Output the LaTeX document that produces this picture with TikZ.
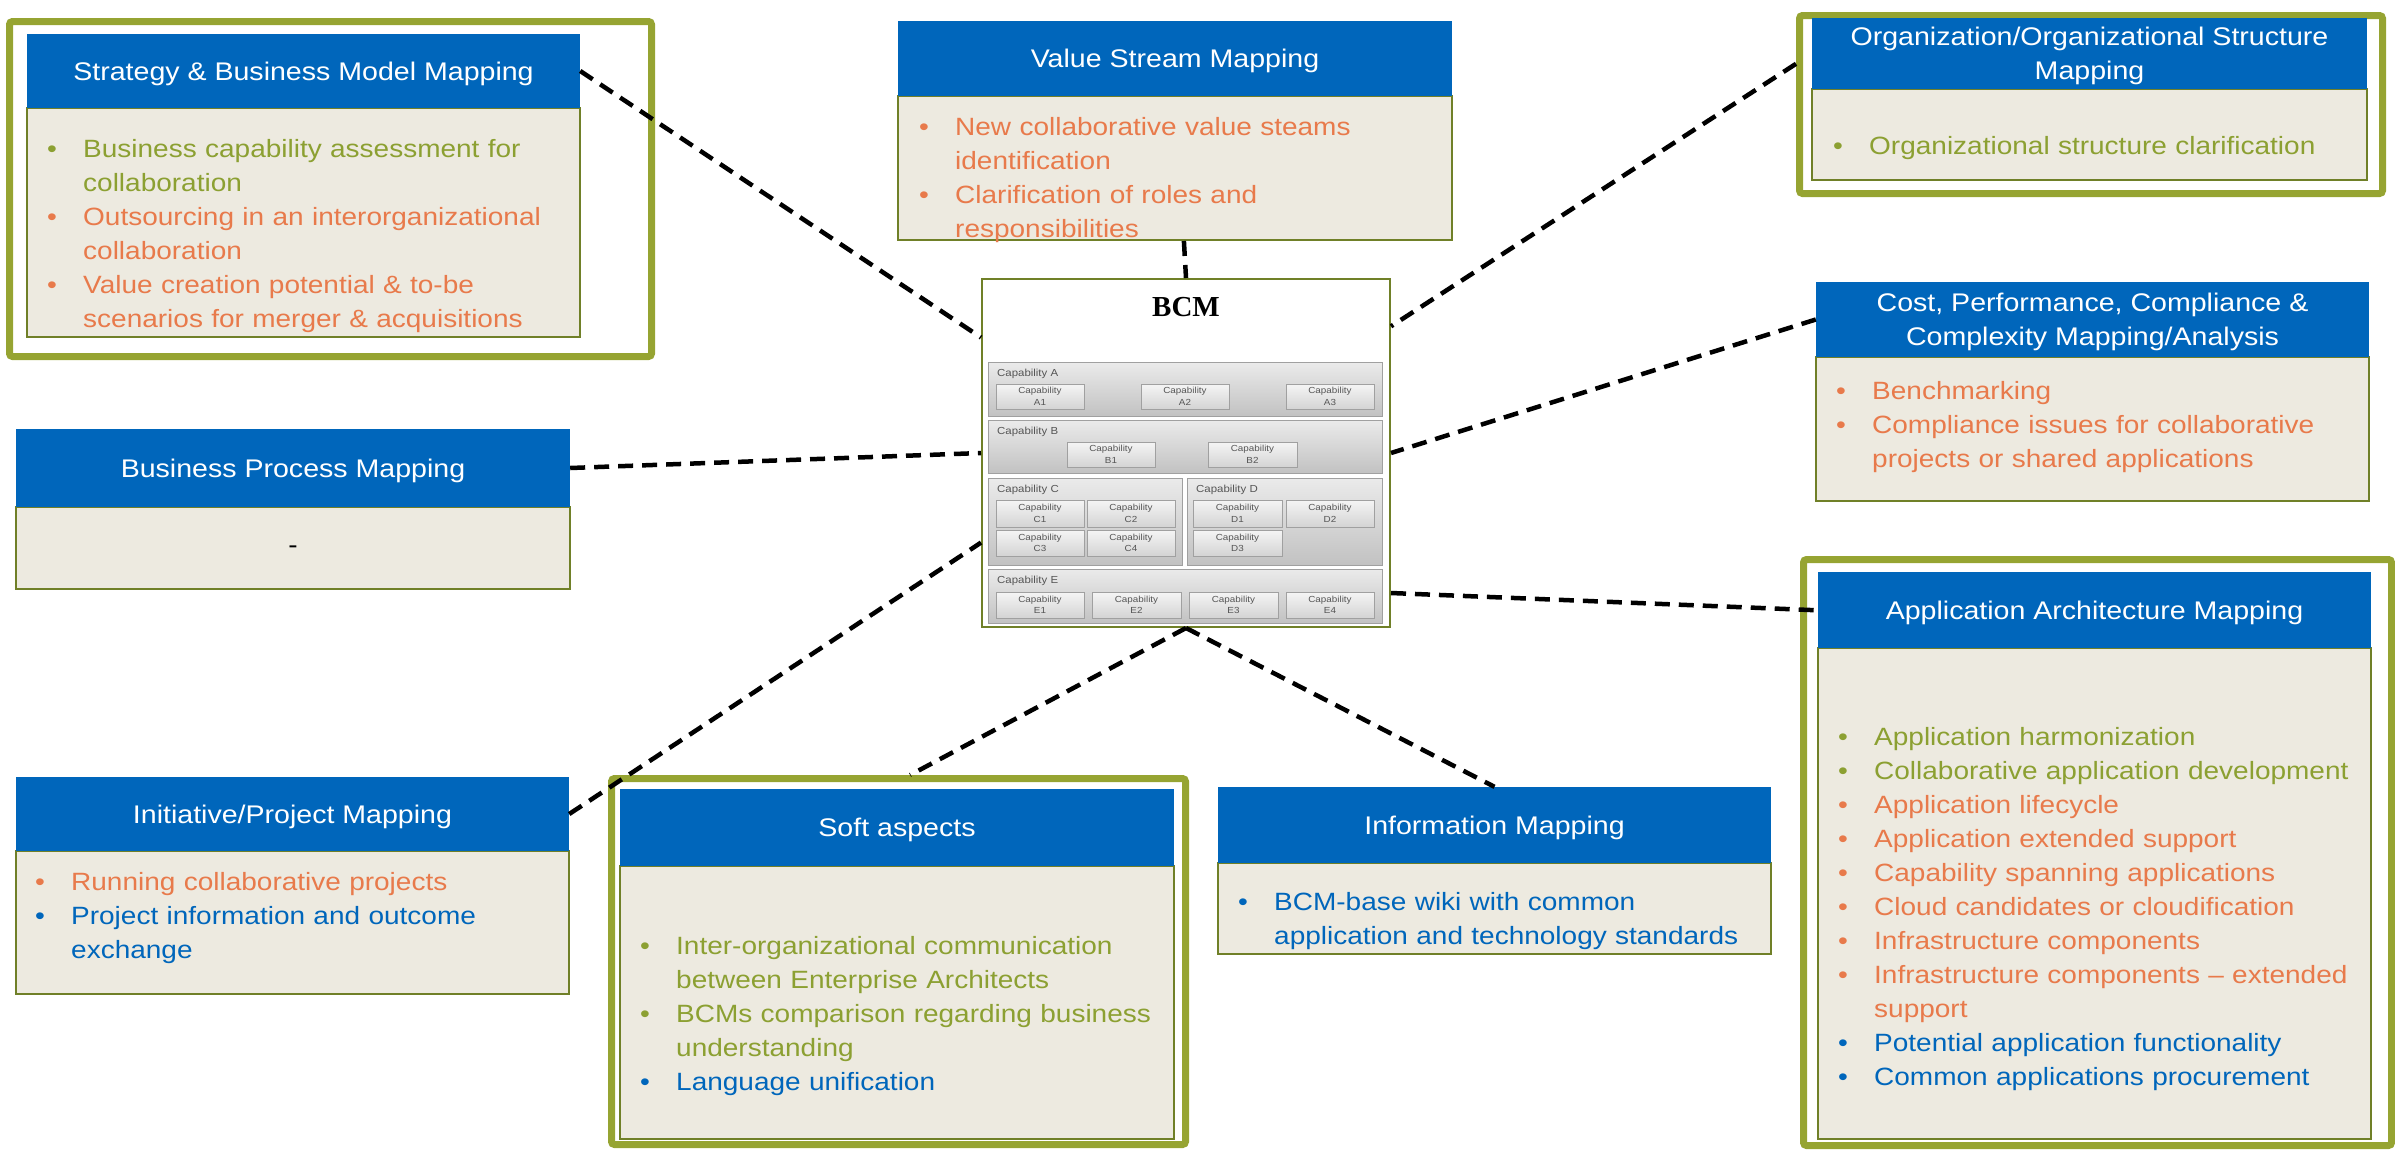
\documentclass[tikz,border=0pt]{standalone}
\usepackage{fontspec}
\setmainfont{Liberation Sans}[FakeStretch=1.12]
\newfontfamily\titleserif{Liberation Serif}
\usetikzlibrary{calc,shadows}

\definecolor{hblue}{RGB}{0,102,187}
\definecolor{bodyfill}{RGB}{237,234,224}
\definecolor{bodyline}{RGB}{112,128,40}
\definecolor{frgreen}{RGB}{150,164,50}
\definecolor{tgreen}{RGB}{140,160,50}
\definecolor{torange}{RGB}{232,122,75}
\definecolor{tblue}{RGB}{0,102,187}
\definecolor{capgray}{RGB}{85,85,85}
\definecolor{capline}{RGB}{160,160,160}

\tikzset{
  headbox/.style={fill=hblue, draw=none, text=white, align=center, inner sep=0pt,
    text depth=0pt, font=\fontsize{25.5}{34}\selectfont},
  bodybox/.style={fill=bodyfill, draw=bodyline, line width=2pt, inner sep=0pt},
  framebox/.style={draw=frgreen, line width=7pt, rounded corners=3pt, inner sep=0pt},
  bullettext/.style={anchor=north west, inner sep=0pt, align=left, text width=#1,
    font=\fontsize{25}{34}\selectfont},
  link/.style={draw=black, line width=4.5pt, dash pattern=on 15pt off 9pt},
  bcmbox/.style={fill=white, draw=bodyline, line width=2pt, inner sep=0pt},
  caprow/.style={draw=capline, line width=1pt, top color=black!8, bottom color=black!24, inner sep=0pt},
  caplabel/.style={text=capgray, inner sep=0pt, font=\fontsize{10.2}{12}\selectfont},
  subcapbox/.style={draw=capline, line width=0.8pt, top color=black!4, bottom color=black!17,
    inner sep=0pt, text=capgray, align=center, font=\fontsize{8.8}{11.5}\selectfont,
    drop shadow={shadow xshift=1pt, shadow yshift=-1.2pt, opacity=0.35}},
}

% a rectangle node given by its corners (x1,y1)-(x2,y2), y growing downwards
\newcommand\boxat[7]{%
  \node[#1, minimum width={#5-#3}, minimum height={#6-#4}] (#2)
    at ({(#3+#5)/2},{(#4+#6)/2}) {#7};}

% one coloured bullet paragraph with hanging indent
\newcommand\bitem[2]{\par\noindent\hangindent=36pt\hangafter=1\color{#1}\strut
  \makebox[36pt][l]{\textbullet}#2\strut\par}

% capability row with its label
\newcommand\caprowat[6]{%
  \boxat{caprow}{#1}{#2}{#3}{#4}{#5}{}
  \node[caplabel, anchor=base west] (#1lbl) at ({#2+9},{#3+14}) {#6};}

% capability sub box
\newcommand\subcapat[6]{\boxat{subcapbox}{#1}{#2}{#3}{#4}{#5}{Capability\\#6}}

\begin{document}
\begin{tikzpicture}[x=1pt, y=-1pt]
\useasboundingbox (0,0) rectangle (2395,1149);

% ---- green highlight frames
\boxat{framebox}{stratframe}{9.5}{21.5}{651.5}{356.5}{}
\boxat{framebox}{orgframe}{1799.5}{15.5}{2382.5}{193.5}{}
\boxat{framebox}{appframe}{1803.5}{559.5}{2391.5}{1145.5}{}
\boxat{framebox}{softframe}{611.5}{778.5}{1185.5}{1144.5}{}

% ---- Strategy & Business Model Mapping
\boxat{bodybox}{stratbody}{27}{108}{580}{337}{}
\boxat{headbox}{strathead}{27}{34}{580}{108}{Strategy \& Business Model Mapping}
\node[bullettext=560] (strattext) at (47,123.5) {%
  \bitem{tgreen}{Business capability assessment for\newline collaboration}%
  \bitem{torange}{Outsourcing in an interorganizational\newline collaboration}%
  \bitem{torange}{Value creation potential \& to-be\newline scenarios for merger \& acquisitions}};

% ---- Value Stream Mapping
\boxat{bodybox}{vsbody}{898}{96}{1452}{240}{}
\boxat{headbox}{vshead}{898}{21}{1452}{96}{Value Stream Mapping}
\node[bullettext=560] (vstext) at (919,101.5) {%
  \bitem{torange}{New collaborative value steams\newline identification}%
  \bitem{torange}{Clarification of roles and\newline responsibilities}};

% ---- Organization/Organizational Structure Mapping
\boxat{bodybox}{orgbody}{1812}{89}{2367}{180}{}
\boxat{headbox}{orghead}{1812}{18}{2367}{89}{Organization/Organizational Structure\\Mapping}
\node[bullettext=560] (orgtext) at (1833,120.5) {%
  \bitem{tgreen}{Organizational structure clarification}};

% ---- Cost, Performance, Compliance & Complexity Mapping/Analysis
\boxat{bodybox}{costbody}{1816}{357}{2369}{501}{}
\boxat{headbox}{costhead}{1816}{282}{2369}{357}{Cost, Performance, Compliance \&\\Complexity Mapping/Analysis}
\node[bullettext=560] (costtext) at (1836,365) {%
  \bitem{torange}{Benchmarking}%
  \bitem{torange}{Compliance issues for collaborative\newline projects or shared applications}};

% ---- Application Architecture Mapping
\boxat{bodybox}{appbody}{1818}{648.3}{2371}{1139}{}
\boxat{headbox}{apphead}{1818}{572.3}{2371}{648.3}{Application Architecture Mapping}
\node[bullettext=560] (apptext) at (1838,711.2) {%
  \bitem{tgreen}{Application harmonization}%
  \bitem{tgreen}{Collaborative application development}%
  \bitem{torange}{Application lifecycle}%
  \bitem{torange}{Application extended support}%
  \bitem{torange}{Capability spanning applications}%
  \bitem{torange}{Cloud candidates or cloudification}%
  \bitem{torange}{Infrastructure components}%
  \bitem{torange}{Infrastructure components -- extended\newline support}%
  \bitem{tblue}{Potential application functionality}%
  \bitem{tblue}{Common applications procurement}};

% ---- Business Process Mapping
\boxat{bodybox}{bpbody}{16}{507}{570}{589}{}
\boxat{headbox}{bphead}{16}{429}{570}{507}{Business Process Mapping}
\node[inner sep=0pt, font=\fontsize{25}{34}\selectfont] (bptext) at (293,550) {-};

% ---- Initiative/Project Mapping
\boxat{bodybox}{initbody}{16}{851}{569}{994}{}
\boxat{headbox}{inithead}{16}{777}{569}{851}{Initiative/Project Mapping}
\node[bullettext=560] (inittext) at (35,856.5) {%
  \bitem{torange}{Running collaborative projects}%
  \bitem{tblue}{Project information and outcome\newline exchange}};

% ---- Soft aspects
\boxat{bodybox}{softbody}{620}{866}{1174}{1139}{}
\boxat{headbox}{softhead}{620}{789}{1174}{866}{Soft aspects}
\node[bullettext=560] (softtext) at (640,920.5) {%
  \bitem{tgreen}{Inter-organizational communication\newline between Enterprise Architects}%
  \bitem{tgreen}{BCMs comparison regarding business\newline understanding}%
  \bitem{tblue}{Language unification}};

% ---- Information Mapping
\boxat{bodybox}{infobody}{1218}{863}{1771}{954}{}
\boxat{headbox}{infohead}{1218}{787}{1771}{863}{Information Mapping}
\node[bullettext=560] (infotext) at (1238,876.5) {%
  \bitem{tblue}{BCM-base wiki with common\newline application and technology standards}};

% ---- central business capability map
\boxat{bcmbox}{bcm}{982}{279}{1390}{627}{}
\node[inner sep=0pt, font=\titleserif\bfseries\fontsize{29}{30}\selectfont] (bcmtitle) at (1186,307) {BCM};

\caprowat{capA}{988}{362}{1382}{416}{Capability A}
\subcapat{capAa}{996}{384}{1084}{409}{A1}
\subcapat{capAb}{1141}{384}{1229}{409}{A2}
\subcapat{capAc}{1286}{384}{1374}{409}{A3}

\caprowat{capB}{988}{420}{1382}{473}{Capability B}
\subcapat{capBa}{1067}{442}{1155}{467}{B1}
\subcapat{capBb}{1208}{442}{1297}{467}{B2}

\caprowat{capC}{988}{478}{1182}{565}{Capability C}
\subcapat{capCa}{996}{500}{1084}{527}{C1}
\subcapat{capCb}{1087}{500}{1175}{527}{C2}
\subcapat{capCc}{996}{530}{1084}{556}{C3}
\subcapat{capCd}{1087}{530}{1175}{556}{C4}

\caprowat{capD}{1187}{478}{1382}{565}{Capability D}
\subcapat{capDa}{1193}{500}{1282}{527}{D1}
\subcapat{capDb}{1286}{500}{1374}{527}{D2}
\subcapat{capDc}{1193}{530}{1282}{556}{D3}

\caprowat{capE}{988}{569}{1382}{623}{Capability E}
\subcapat{capEa}{996}{592}{1084}{618}{E1}
\subcapat{capEb}{1092}{592}{1181}{618}{E2}
\subcapat{capEc}{1189}{592}{1278}{618}{E3}
\subcapat{capEd}{1286}{592}{1374}{618}{E4}

% ---- attachment points on the borders
\coordinate (bcmLa) at ($(bcm.north west)!0.17!(bcm.south west)$);
\coordinate (bcmLc) at ($(bcm.north west)!0.756!(bcm.south west)$);
\coordinate (bcmRa) at ($(bcm.north east)!0.138!(bcm.south east)$);
\coordinate (bcmRc) at ($(bcm.north east)!0.90!(bcm.south east)$);
\coordinate (orgL) at ($(orgframe.north west)!0.28!(orgframe.south west)$);
\coordinate (vsB) at ($(vsbody.south west)!0.516!(vsbody.south east)$);
\coordinate (softT) at ($(softframe.north west)!0.52!(softframe.north east)$);

% ---- dashed connectors
\draw[link] (strathead.east) -- (bcmLa);
\draw[link] (vsB) -- (bcm.north);
\draw[link] (orgL) -- (bcmRa);
\draw[link] (costhead.west) -- (bcm.east);
\draw[link] (bphead.east) -- (bcm.west);
\draw[link] (bcmRc) -- (apphead.west);
\draw[link] (inithead.east) -- (bcmLc);
\draw[link] (bcm.south) -- (softT);
\draw[link] (bcm.south) -- (infohead.north);
\end{tikzpicture}
\end{document}
